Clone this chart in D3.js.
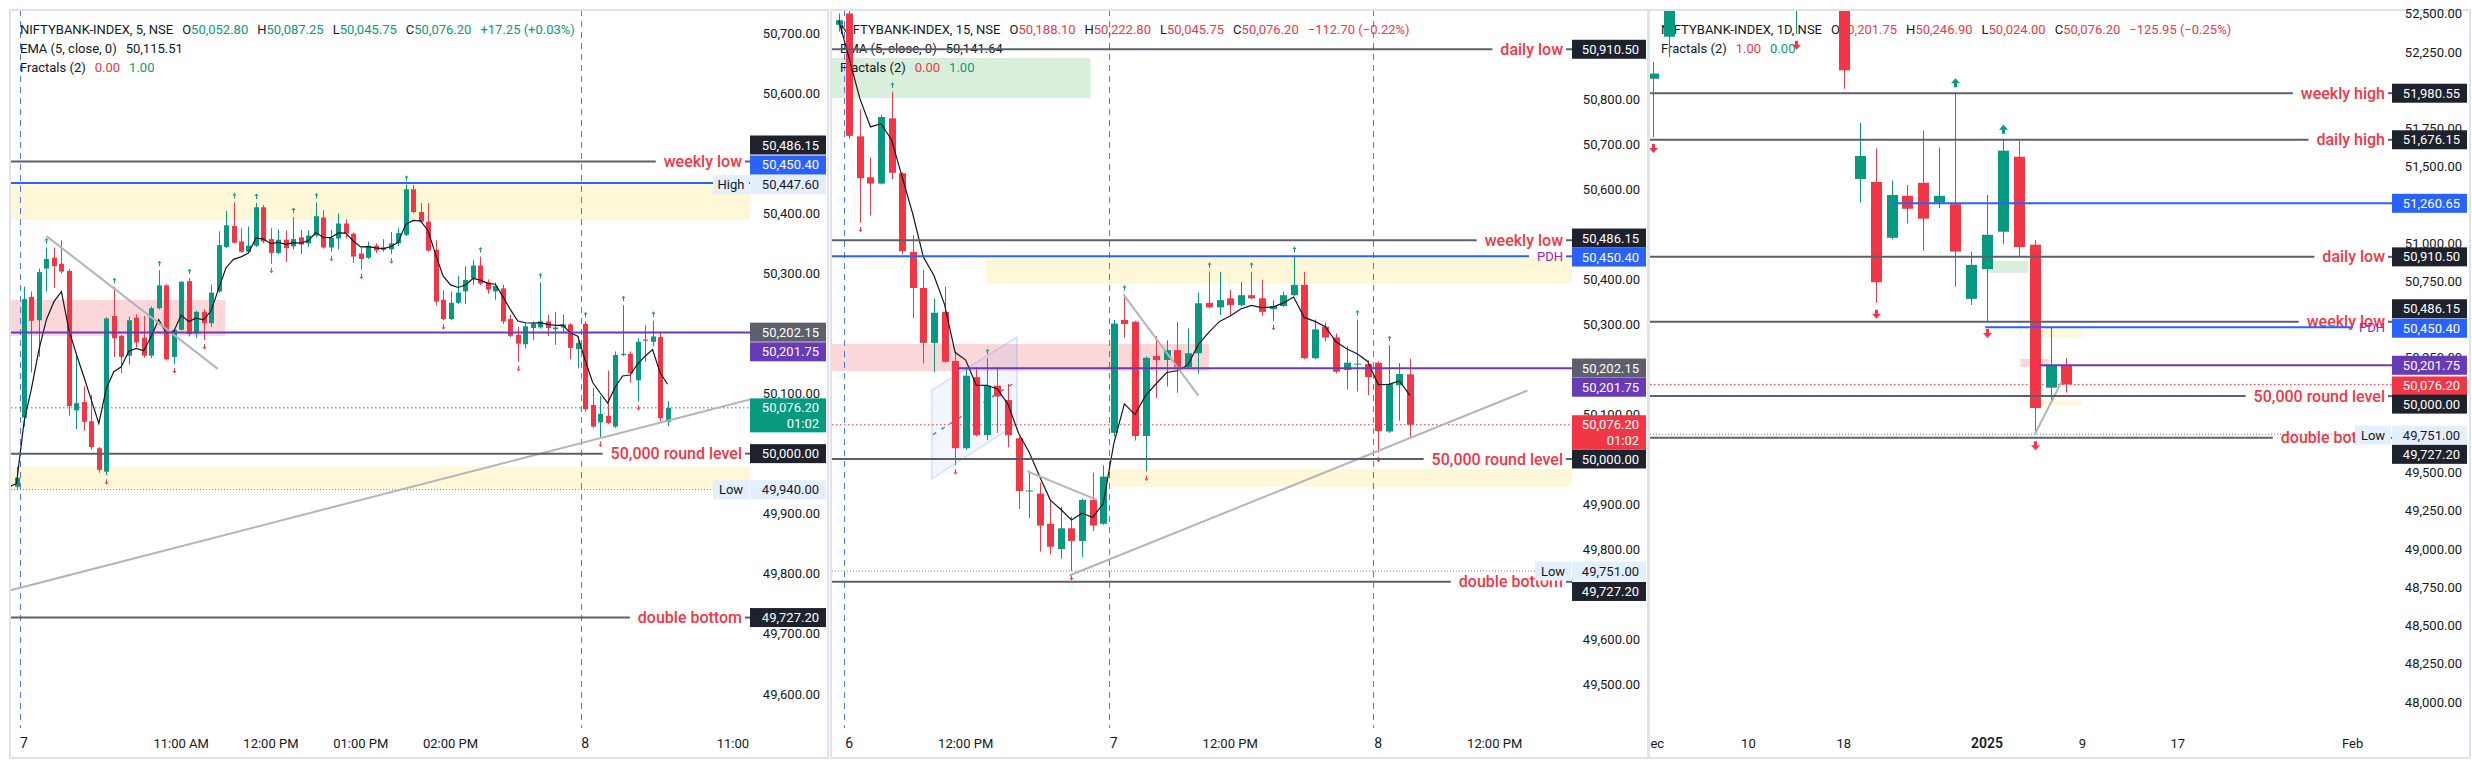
<!DOCTYPE html>
<html><head><meta charset="utf-8">
<script src="https://cdn.jsdelivr.net/npm/d3@7/dist/d3.min.js"></script>
<style>html,body{margin:0;padding:0;background:#fff}svg{display:block}</style>
</head><body>
<svg id="chart" width="2472" height="770"></svg>
<script>
// ================= DATA =================
// Panel 1: NIFTYBANK-INDEX, 5 min (bar 0 = 7 Jan 09:15, bar 75 = 8 Jan 09:15)
const p1FirstBar = -2;
const p1Open = [49948,49945,50060,50261,50222,50308,50326,50316,50304,50072,
50086,50054,50009,49970,50229,50196,50163,50226,50193,50163,
50242,50280,50161,50206,50287,50200,50236,50217,50270,50344,
50379,50353,50336,50346,50410,50357,50334,50356,50345,50360,
50350,50363,50393,50343,50358,50383,50366,50333,50326,50346,
50343,50340,50350,50364,50440,50402,50386,50339,50256,50224,
50251,50270,50292,50313,50285,50270,50275,50224,50198,50182,
50209,50210,50220,50207,50210,50215,50174,50216,50081,50052,
50063,50045,50164,50166,50122,50190,50186,50194,50052.8];
const p1High = [49962,49978,50278,50270,50308,50343,50343,50355,50307,50165,
50112,50098,50011,50227,50277,50198,50228,50232,50229,50245,
50305,50282,50208,50287,50292,50238,50240,50281,50370,50404,
50418,50375,50378,50417,50414,50375,50373,50371,50394,50372,
50371,50418,50405,50372,50400,50390,50368,50343,50353,50350,
50357,50369,50375,50447.6,50447,50417,50417,50355,50272,50270,
50296,50312,50322,50328,50290,50285,50281,50231,50211,50218,
50220,50285,50231,50236,50231,50217,50195,50220,50109,50096,
50138,50170,50247,50170,50192,50214,50221,50203,50087.25];
const p1Low = [49942,49940,50045,50135,50161,50270,50276,50300,50063,50041,
50038,50007,49968,49964,50161,50134,50148,50177,50160,50159,
50240,50155,50149,50205,50195,50193,50189,50211,50268,50342,
50350,50334,50334,50344,50350,50316,50332,50319,50340,50332,
50344,50360,50341,50336,50340,50358,50317,50306,50324,50334,
50336,50332,50345,50362,50400,50384,50336,50247,50222,50222,
50249,50249,50281,50280,50266,50256,50216,50194,50153,50175,
50189,50208,50196,50181,50200,50157,50142,50070,50043,50027,
50049,50043,50162,50118,50087,50153,50179,50054,50045.75];
const p1Close = [49945,49960,50257,50221,50302,50324,50312,50303,50079,50084,
50053,50011,49973,50225,50192,50161,50222,50185,50163,50242,
50280,50157,50206,50286,50199,50236,50217,50268,50347,50380,
50351,50336,50346,50410,50353,50334,50356,50342,50357,50348,
50363,50395,50343,50359,50383,50366,50328,50324,50346,50338,
50339,50350,50367,50440,50402,50386,50338,50253,50224,50251,
50268,50289,50313,50283,50273,50279,50220,50196,50183,50212,
50216,50220,50209,50210,50215,50176,50184,50074,50045,50066,
50051,50164,50166,50134,50186,50188,50195,50058.95,50076.2];
const p1UpFractals = [3,12,18,22,28,31,36,39,51,61,69,75,80,84];
const p1DownFractals = [11,20,24,33,41,45,49,56,66,77,82];
const p1SessionBreaks = [-0.5, 74.5];
const p1TimeTickBars = [0,21,33,45,57,75,96];
const p1TimeTickLabels = ["7","11:00 AM","12:00 PM","01:00 PM","02:00 PM","8","11:00"];
const p1PriceTicks = [50700,50600,50400,50300,50100,49900,49800,49700,49600];
const p1YellowZones = [[-5,300,50389,50447.6],[-5,300,49940,49978]];
const p1RedZones = [[-5,26.9,50196,50256]];
const p1Trends = [[3,50362,25.9,50141],[-2,49772,97,50090]];
const p1LevelPrices = [50486.15, 50000, 49727.2];
const p1LevelNames = ["weekly low","50,000 round level","double bottom"];
const p1Header = ["NIFTYBANK-INDEX, 5, NSE","+17.25 (+0.03%)","EMA (5, close, 0)","50,115.51","Fractals (2)","0.00","1.00"];

// Panel 2: NIFTYBANK-INDEX, 15 min (bar 0 = 6 Jan 09:15, 25 = 7 Jan, 50 = 8 Jan)
const p2FirstBar = -1;
const p2Open = [50965,50990,50717,50626,50612,50757,50635,50460,50380,50258,
50327,50218,50024,50182,50053,50163,50131,50046,49928,49923,
49856,49800,49846,49818,49909,49856,50058,50309,50305,50051,
50229,50220,50242,50204,50235,50347,50337,50357,50342,50364,
50357,50333,50340,50364,50387,50224,50294,50270,50198,50210,
50211,50214,50061,50164,50188.1];
const p2High = [50990,51020,50777,50670,50765,50816,50637,50497,50420,50357,
50383,50239,50204,50204,50224,50204,50167,50050,49974,49948,
49910,49894,49872,49912,49970,49986,50309,50365,50307,50228,
50273,50264,50305,50290,50370,50416,50416,50376,50394,50416,
50398,50353,50372,50451,50416,50310,50303,50279,50251,50310,
50219,50217,50253,50213,50222.8];
const p2Low = [50950,50712,50525,50541,50610,50622,50455,50313,50212,50193,
50214,49986,50020,50050,50042,50058,50026,49889,49869,49794,
49788,49778,49751,49782,49840,49854,50050,50270,50041,49972,
50135,50161,50147,50200,50190,50335,50320,50320,50340,50355,
50318,50307,50338,50362,50222,50222,50261,50190,50155,50150,
50142,50014,50058,50085,50045.75];
const p2Close = [50975,50718,50624,50612,50760,50636,50462,50380,50258,50325,
50216,50024,50185,50053,50163,50139,50053,49929,49930,49852,
49805,49846,49818,49909,49852,49961,50301,50300,50051,50225,
50220,50242,50204,50235,50346,50337,50353,50342,50364,50357,
50327,50340,50364,50387,50224,50288,50270,50194,50214,50212,
50182,50062,50167,50188.9,50076.2];
const p2UpFractals = [4,13,26,34,38,42,48,51];
const p2DownFractals = [1,10,21,28,40,50];
const p2SessionBreaks = [-0.5, 24.5, 49.5];
const p2TimeTickBars = [0,11,25,36,50,61];
const p2TimeTickLabels = ["6","12:00 PM","7","12:00 PM","8","12:00 PM"];
const p2PriceTicks = [50800,50700,50600,50400,50300,50100,49900,49800,49600,49500];
const p2GreenZones = [[-3,22.8,50802,50891]];
const p2YellowZones = [[12.9,300,50390,50447.3],[24.4,300,49938.4,49978.4]];
const p2RedZones = [[-3,34,50195.6,50255.6]];
const p2Trends = [[25.9,50366,33,50141],[16.8,49973,23.4,49909],[20.8,49741,64.1,50152]];
const p2Channel = [[7.8,50153],[15.85,50271],[15.85,50078],[7.8,49956]];
const p2ChannelMid = [[7.9,50054],[15.85,50173]];
const p2LevelPrices = [50910.5, 50486.15, 50000, 49727.2];
const p2LevelNames = ["daily low","weekly low","50,000 round level","double bottom"];
const p2Header = ["NIFTYBANK-INDEX, 15, NSE","\u2212112.70 (\u22120.22%)","EMA (5, close, 0)","50,141.64","Fractals (2)","0.00","1.00"];

// Panel 3: NIFTYBANK-INDEX, 1D (bar 0 = 2 Dec 2024 ... bar 26 = 8 Jan 2025)
const p3Open = [52075,52350,52690,52800,53300,53500,53400,53550,53400,53150,53550,53500,52800,51420,51400,51035,51310,51395,51265,51255,50636,50830,51075,51565,50990,50055,50201.75];
const p3High = [52185,52760,53000,53400,53650,53600,53700,53620,53450,53650,53700,53550,52900,51785,51620,51410,51380,51735,51625,51980,50945,51315,51676,51670,51020,50447.6,50246.9];
const p3Low = [51694,52217,52560,52700,53250,53200,53350,53300,53150,52370,53450,52780,52010,51265,50610,51025,51130,50950,51230,50715,50596,50485,50995,50910,49751,49964,50024];
const p3Close = [52109,52695,52770,53265,53510,53410,53580,53390,53215,53580,53580,52835,52130,51570,50745,51315,51225,51160,51310,50945,50858,51055,51605,50975,49922,50202.15,50076.2];
const p3UpFractals = [19,22];
const p3DownFractals = [0,9,14,21,24];
const p3TimeTickBars = [0,6,12,21,27,33,44];
const p3TimeTickLabels = ["Dec","10","18","2025","9","17","Feb"];
const p3PriceTicks = [52500,52250,51750,51500,51000,50750,50250,49500,49250,49000,48750,48500,48250,48000];
const p3GreenZones = [[21,23.6,50806,50884]];
const p3YellowZones = [[24.3,27,50381,50439.5],[24.3,27,49936,49971]];
const p3RedZones = [[23.1,24.9,50191,50243.5]];
const p3Trends = [[24,49747,25.7,50095]];
const p3LevelPrices = [51980.55, 51676.15, 50910.5, 50486.15, 50000, 49727.2];
const p3LevelNames = ["weekly high","daily high","daily low","weekly low","50,000 round level","double bottom"];
const p3Header = ["NIFTYBANK-INDEX, 1D, NSE","\u2212125.95 (\u22120.25%)","Fractals (2)","1.00","0.00"];

// shared reference prices
const lastPrice = 50076.2, pdh = 50450.4, prevClose = 50202.15, todayOpen = 50201.75;
const p3BlueLevel = 51260.65;

// ================= DRAWING =================
const svg = d3.select("#chart");
const defs = svg.append("defs");
const FONT = "Roboto, 'Noto Sans', 'Liberation Sans', Arial, sans-serif";
const COL = {up:"#089981", dn:"#f23645", text:"#131722", level:"#5d606b", blue:"#2962ff",
  purple:"#673ab7", pdh:"#9c27b0", dark:"#1e222d", gray:"#5d606b", tag:"#e3effd",
  yellow:"#fff8d8", pink:"#fbd7da", green:"#daeedc", trend:"#b2b5be", frame:"#e0e3eb"};
const TOP = 10, BOTTOM = 758, AXIS_TOP = 730;
const fmt = d3.format(",.2f");

function makePanel(id, fx0, fx1, plotR) {
  const g = svg.append("g");
  g.append("rect").attr("x", fx0).attr("y", TOP).attr("width", fx1 - fx0).attr("height", BOTTOM - TOP)
    .attr("fill", "#fff").attr("stroke", COL.frame).attr("stroke-width", 2);
  defs.append("clipPath").attr("id", id + "p").append("rect")
    .attr("x", fx0 + 1).attr("y", TOP + 1).attr("width", plotR - fx0 - 1).attr("height", AXIS_TOP - TOP - 1);
  defs.append("clipPath").attr("id", id + "t").append("rect")
    .attr("x", fx0 + 1).attr("y", AXIS_TOP).attr("width", plotR - fx0 - 1).attr("height", BOTTOM - AXIS_TOP);
  const plot = g.append("g").attr("clip-path", `url(#${id}p)`);
  return {id, g, plot, fx0, fx1, plotR};
}
function txt(sel, x, y, s, o = {}) {
  return sel.append("text").attr("x", x).attr("y", y).text(s)
    .attr("font-family", FONT).attr("font-size", o.size || 13).attr("fill", o.fill || COL.text)
    .attr("text-anchor", o.anchor || "start").attr("dominant-baseline", "central")
    .attr("font-weight", o.weight || 400);
}
function header(sel, x, y, segs) {
  const t = sel.append("text").attr("x", x).attr("y", y).attr("font-family", FONT)
    .attr("font-size", 13).attr("dominant-baseline", "central");
  segs.forEach(s => t.append("tspan").attr("dx", s[2] || 0).attr("fill", s[1]).text(s[0]));
}
function zones(sel, xs, ys, list, fill) {
  list.forEach(z => sel.append("rect").attr("x", xs(z[0])).attr("width", xs(z[1]) - xs(z[0]))
    .attr("y", ys(z[3])).attr("height", ys(z[2]) - ys(z[3])).attr("fill", fill));
}
function hLine(sel, xa, xb, y, color, w, dash) {
  const l = sel.append("line").attr("x1", xa).attr("x2", xb).attr("y1", y).attr("y2", y)
    .attr("stroke", color).attr("stroke-width", w);
  if (dash) l.attr("stroke-dasharray", dash);
  return l;
}
function sessionLine(sel, x) {
  const xx = Math.round(x) + 0.5;
  sel.append("line").attr("x1", xx).attr("x2", xx).attr("y1", TOP).attr("y2", AXIS_TOP - 2)
    .attr("stroke", COL.blue).attr("stroke-width", 1).attr("stroke-dasharray", "6,5").attr("opacity", 0.85);
}
function candles(sel, xs, ys, first, O, Hh, L, Cc, bw) {
  const idx = d3.range(O.length);
  const col = k => Cc[k] >= O[k] ? COL.up : COL.dn;
  const cx = k => Math.round(xs(k + first));
  sel.append("g").selectAll("line").data(idx).join("line")
    .attr("x1", k => cx(k) + 0.5).attr("x2", k => cx(k) + 0.5)
    .attr("y1", k => ys(Hh[k])).attr("y2", k => ys(L[k]))
    .attr("stroke", col).attr("stroke-width", 1);
  sel.append("g").selectAll("rect").data(idx).join("rect")
    .attr("x", k => cx(k) - (bw - 1) / 2).attr("width", bw)
    .attr("y", k => ys(Math.max(O[k], Cc[k])))
    .attr("height", k => Math.max(1, Math.abs(ys(O[k]) - ys(Cc[k]))))
    .attr("fill", col);
}
function emaLine(sel, xs, ys, first, Cc, len) {
  const a = 2 / (len + 1); let e = Cc[0];
  const pts = Cc.map((c, k) => { e = k === 0 ? c : a * c + (1 - a) * e; return [xs(k + first), ys(e)]; });
  sel.append("path").attr("d", d3.line()(pts)).attr("fill", "none")
    .attr("stroke", "#131722").attr("stroke-width", 1.2);
}
function smallFractals(sel, xs, ys, first, Hh, L, ups, downs) {
  ups.forEach(b => {
    const x = Math.round(xs(b)) + 0.5, y = ys(Hh[b - first]) - 7;
    sel.append("path").attr("d", `M${x - 2},${y} L${x},${y - 2.5} L${x + 2},${y} Z`).attr("fill", COL.up);
    sel.append("line").attr("x1", x).attr("x2", x).attr("y1", y).attr("y2", y + 3).attr("stroke", COL.up);
  });
  downs.forEach(b => {
    const x = Math.round(xs(b)) + 0.5, y = ys(L[b - first]) + 7;
    sel.append("path").attr("d", `M${x - 2},${y} L${x},${y + 2.5} L${x + 2},${y} Z`).attr("fill", COL.dn);
    sel.append("line").attr("x1", x).attr("x2", x).attr("y1", y).attr("y2", y - 3).attr("stroke", COL.dn);
  });
}
function bigArrow(sel, x, yTip, dir, color) {
  const s = dir; // -1 up (tip at top), +1 down (tip at bottom)
  const p = [[0,0],[4.5,-5*s],[1.5,-5*s],[1.5,-9*s],[-1.5,-9*s],[-1.5,-5*s],[-4.5,-5*s]]
    .map(d => `${x + d[0]},${yTip + d[1]}`).join(" L");
  sel.append("path").attr("d", "M" + p + " Z").attr("fill", color);
}
function trends(sel, xs, ys, list) {
  list.forEach(t => sel.append("line").attr("x1", xs(t[0])).attr("y1", ys(t[1]))
    .attr("x2", xs(t[2])).attr("y2", ys(t[3])).attr("stroke", COL.trend).attr("stroke-width", 2));
}
function levelWithText(sel, x0, textEnd, plotR, y, label, o = {}) {
  const t = txt(sel, textEnd, y, label, {size: o.size || 16, fill: o.tfill || COL.dn, anchor: "end", weight: o.weight || 500});
  const w = t.node().getComputedTextLength();
  hLine(sel, x0, textEnd - w - 8, y, o.color || COL.level, 2);
  hLine(sel, textEnd + 3, plotR, y, o.color || COL.level, 2);
  return t;
}
function yTicks(g, ys, ticks, xr) {
  ticks.forEach(v => txt(g, xr, ys(v), fmt(v), {anchor: "end"}));
}
function priceBox(g, x0, x1, cy, bg, fg, lines) {
  const h = 19 + (lines.length - 1) * 15;
  g.append("rect").attr("x", x0).attr("y", cy - 9.5).attr("width", x1 - x0).attr("height", h).attr("fill", bg);
  lines.forEach((s, k) => txt(g, x1 - 7, cy + k * 16, s, {anchor: "end", fill: fg}));
}
function tagBox(g, x0, x1, plotR, cy, tag, value) {
  g.append("rect").attr("x", plotR - 37).attr("y", cy - 9.5).attr("width", 36).attr("height", 19).attr("fill", COL.tag);
  txt(g, plotR - 19, cy, tag, {anchor: "middle"});
  priceBox(g, x0, x1, cy, COL.tag, COL.text, [fmt(value)]);
}
function xTicks(P, xs, bars, labels, boldSet) {
  const gg = P.g.append("g").attr("clip-path", `url(#${P.id}t)`);
  bars.forEach((b, k) => {
    const x = xs(b);
    const bold = boldSet.includes(labels[k]);
    const t = txt(gg, x, 743, labels[k], {anchor: "middle", size: bold ? 14 : 13, weight: labels[k] === "2025" ? 600 : 400});
    const w = t.node().getComputedTextLength();
    if (x + w / 2 > P.plotR - 1) t.attr("x", P.plotR - 1 - w / 2);
  });
}

// ---------- PANEL 1 ----------
{
  const P = makePanel("p1", 10, 828, 750);
  const xs = d3.scaleLinear().domain([0, 75]).range([24, 24 + 75 * 7.483]);
  const ys = d3.scaleLinear().domain([49600, 50700]).range([694, 33]);
  const pl = P.plot, L0 = 11;
  zones(pl, xs, ys, p1YellowZones, COL.yellow);
  zones(pl, xs, ys, p1RedZones, COL.pink);
  p1SessionBreaks.forEach(b => sessionLine(pl, xs(b)));
  hLine(pl, L0, 750, ys(lastPrice), COL.up, 1, "1.5,2.5");
  hLine(pl, L0, 713, ys(d3.min(p1Low)), "#787b86", 1, "1,2");
  hLine(pl, L0, 713, ys(d3.max(p1High)) - 2, "#787b86", 1, "1,2");
  const last = p1Open.length - 1;
  header(pl, 20, 29, [[p1Header[0], COL.text], ["O", COL.text, 9], [fmt(p1Open[last]), COL.up],
    ["H", COL.text, 9], [fmt(p1High[last]), COL.up], ["L", COL.text, 9], [fmt(p1Low[last]), COL.up],
    ["C", COL.text, 9], [fmt(p1Close[last]), COL.up], [p1Header[1], COL.up, 9]]);
  header(pl, 20, 48, [[p1Header[2], COL.text], [p1Header[3], COL.text, 9]]);
  header(pl, 20, 67, [[p1Header[4], COL.text], [p1Header[5], COL.dn, 9], [p1Header[6], COL.up, 9]]);
  candles(pl, xs, ys, p1FirstBar, p1Open, p1High, p1Low, p1Close, 5);
  emaLine(pl, xs, ys, p1FirstBar, p1Close, 5);
  smallFractals(pl, xs, ys, p1FirstBar, p1High, p1Low, p1UpFractals, p1DownFractals);
  trends(pl, xs, ys, p1Trends);
  hLine(pl, L0, 750, ys(pdh), COL.blue, 2);
  hLine(pl, L0, 750, ys(todayOpen), COL.purple, 2);
  p1LevelPrices.forEach((v, k) => levelWithText(pl, L0, 742, 750, ys(v), p1LevelNames[k]));
  // price axis
  yTicks(P.g, ys, p1PriceTicks, 820);
  const bx0 = 750, bx1 = 826;
  priceBox(P.g, bx0, bx1, ys(p1LevelPrices[0]) - 16.5, COL.dark, "#fff", [fmt(p1LevelPrices[0])]);
  priceBox(P.g, bx0, bx1, ys(pdh) - 18, COL.blue, "#fff", [fmt(pdh)]);
  tagBox(P.g, bx0, bx1, 750, ys(d3.max(p1High)), "High", d3.max(p1High));
  priceBox(P.g, bx0, bx1, ys(prevClose), COL.gray, "#fff", [fmt(prevClose)]);
  priceBox(P.g, bx0, bx1, ys(todayOpen) + 19.4, COL.purple, "#fff", [fmt(todayOpen)]);
  priceBox(P.g, bx0, bx1, ys(lastPrice), COL.up, "#fff", [fmt(lastPrice), "01:02"]);
  priceBox(P.g, bx0, bx1, ys(p1LevelPrices[1]), COL.dark, "#fff", [fmt(p1LevelPrices[1])]);
  tagBox(P.g, bx0, bx1, 750, ys(d3.min(p1Low)), "Low", d3.min(p1Low));
  priceBox(P.g, bx0, bx1, ys(p1LevelPrices[2]), COL.dark, "#fff", [fmt(p1LevelPrices[2])]);
  xTicks(P, xs, p1TimeTickBars, p1TimeTickLabels, ["7", "8"]);
}

// ---------- PANEL 2 ----------
{
  const P = makePanel("p2", 831, 1648, 1572);
  const xs = d3.scaleLinear().domain([0, 50]).range([849.3, 849.3 + 50 * 10.58]);
  const ys = d3.scaleLinear().domain([49500, 50800]).range([684, 99]);
  const pl = P.plot, L0 = 832;
  zones(pl, xs, ys, p2GreenZones, COL.green);
  zones(pl, xs, ys, p2YellowZones, COL.yellow);
  zones(pl, xs, ys, p2RedZones, COL.pink);
  // channel
  pl.append("path").attr("d", d3.line()(p2Channel.map(d => [xs(d[0]), ys(d[1])])) + "Z")
    .attr("fill", "rgba(41,98,255,0.06)").attr("stroke", "rgba(41,98,255,0.18)").attr("stroke-width", 1.5);
  pl.append("line").attr("x1", xs(p2ChannelMid[0][0])).attr("y1", ys(p2ChannelMid[0][1]))
    .attr("x2", xs(p2ChannelMid[1][0])).attr("y2", ys(p2ChannelMid[1][1]))
    .attr("stroke", COL.blue).attr("stroke-width", 1.2).attr("stroke-dasharray", "4,6");
  p2SessionBreaks.forEach(b => sessionLine(pl, xs(b)));
  hLine(pl, L0, 1572, ys(lastPrice), COL.dn, 1, "1.5,2.5");
  hLine(pl, L0, 1536, ys(d3.min(p2Low)), "#787b86", 1, "1,2");
  const last = p2Open.length - 1;
  header(pl, 840, 29, [[p2Header[0], COL.text], ["O", COL.text, 9], [fmt(p2Open[last]), COL.dn],
    ["H", COL.text, 9], [fmt(p2High[last]), COL.dn], ["L", COL.text, 9], [fmt(p2Low[last]), COL.dn],
    ["C", COL.text, 9], [fmt(p2Close[last]), COL.dn], [p2Header[1], COL.dn, 9]]);
  header(pl, 840, 48, [[p2Header[2], COL.text], [p2Header[3], COL.text, 9]]);
  header(pl, 840, 67, [[p2Header[4], COL.text], [p2Header[5], COL.dn, 9], [p2Header[6], COL.up, 9]]);
  candles(pl, xs, ys, p2FirstBar, p2Open, p2High, p2Low, p2Close, 7);
  emaLine(pl, xs, ys, p2FirstBar, p2Close, 5);
  smallFractals(pl, xs, ys, p2FirstBar, p2High, p2Low, p2UpFractals, p2DownFractals);
  trends(pl, xs, ys, p2Trends);
  hLine(pl, xs(10.27), 1572, ys(todayOpen), COL.purple, 2);
  p2LevelPrices.forEach((v, k) => levelWithText(pl, L0, 1563, 1572, ys(v), p2LevelNames[k]));
  levelWithText(pl, L0, 1563, 1572, ys(pdh), "PDH", {size: 13, tfill: COL.pdh, color: COL.blue, weight: 400});
  yTicks(P.g, ys, p2PriceTicks, 1640);
  const bx0 = 1572, bx1 = 1646;
  priceBox(P.g, bx0, bx1, ys(p2LevelPrices[0]), COL.dark, "#fff", [fmt(p2LevelPrices[0])]);
  priceBox(P.g, bx0, bx1, ys(p2LevelPrices[1]) - 2.2, COL.dark, "#fff", [fmt(p2LevelPrices[1])]);
  priceBox(P.g, bx0, bx1, ys(pdh) + 0.7, COL.blue, "#fff", [fmt(pdh)]);
  priceBox(P.g, bx0, bx1, ys(prevClose), COL.gray, "#fff", [fmt(prevClose)]);
  priceBox(P.g, bx0, bx1, ys(todayOpen) + 19, COL.purple, "#fff", [fmt(todayOpen)]);
  priceBox(P.g, bx0, bx1, ys(lastPrice), COL.dn, "#fff", [fmt(lastPrice), "01:02"]);
  priceBox(P.g, bx0, bx1, ys(p2LevelPrices[2]), COL.dark, "#fff", [fmt(p2LevelPrices[2])]);
  tagBox(P.g, bx0, bx1, 1572, ys(d3.min(p2Low)), "Low", d3.min(p2Low));
  priceBox(P.g, bx0, bx1, ys(p2LevelPrices[3]) + 9.7, COL.dark, "#fff", [fmt(p2LevelPrices[3])]);
  xTicks(P, xs, p2TimeTickBars, p2TimeTickLabels, ["6", "7", "8"]);
}

// ---------- PANEL 3 ----------
{
  const P = makePanel("p3", 1649, 2470, 2392);
  const xs = d3.scaleLinear().domain([0, 26]).range([1653, 1653 + 26 * 15.9]);
  const ys = d3.scaleLinear().domain([48000, 52250]).range([702, 52]);
  const pl = P.plot, L0 = 1650;
  zones(pl, xs, ys, p3GreenZones, COL.green);
  zones(pl, xs, ys, p3YellowZones, COL.yellow);
  zones(pl, xs, ys, p3RedZones, COL.pink);
  hLine(pl, L0, 2392, ys(lastPrice), COL.dn, 1, "1.5,2.5");
  hLine(pl, L0, 2355, ys(d3.min(p3Low)), "#787b86", 1, "1,2");
  const last = p3Open.length - 1;
  header(pl, 1661, 29, [[p3Header[0], COL.text], ["O", COL.text, 9], [fmt(p3Open[last]), COL.dn],
    ["H", COL.text, 9], [fmt(p3High[last]), COL.dn], ["L", COL.text, 9], [fmt(p3Low[last]), COL.dn],
    ["C", COL.text, 9], [fmt(p3Close[last]), COL.dn], [p3Header[1], COL.dn, 9]]);
  header(pl, 1661, 48, [[p3Header[2], COL.text], [p3Header[3], COL.dn, 9], [p3Header[4], COL.up, 9]]);
  candles(pl, xs, ys, 0, p3Open, p3High, p3Low, p3Close, 11);
  p3UpFractals.forEach(b => bigArrow(pl, Math.round(xs(b)) + 0.5, ys(p3High[b]) - 15, -1, COL.up));
  p3DownFractals.forEach(b => bigArrow(pl, Math.round(xs(b)) + 0.5, ys(p3Low[b]) + 16, 1, COL.dn));
  trends(pl, xs, ys, p3Trends);
  hLine(pl, xs(15.1), 2392, ys(p3BlueLevel), COL.blue, 2);
  hLine(pl, xs(24.3), 2392, ys(todayOpen), COL.purple, 2);
  p3LevelPrices.forEach((v, k) => levelWithText(pl, L0, 2385, 2392, ys(v), p3LevelNames[k]));
  {
    const t = txt(pl, 2385, ys(pdh), "PDH", {size: 13, fill: COL.pdh, anchor: "end"});
    const w = t.node().getComputedTextLength();
    hLine(pl, xs(20.9), 2385 - w - 6, ys(pdh), COL.blue, 2);
  }
  yTicks(P.g, ys, p3PriceTicks, 2462);
  const bx0 = 2392, bx1 = 2467;
  priceBox(P.g, bx0, bx1, ys(p3LevelPrices[0]), COL.dark, "#fff", [fmt(p3LevelPrices[0])]);
  priceBox(P.g, bx0, bx1, ys(p3LevelPrices[1]), COL.dark, "#fff", [fmt(p3LevelPrices[1])]);
  priceBox(P.g, bx0, bx1, ys(p3BlueLevel), COL.blue, "#fff", [fmt(p3BlueLevel)]);
  priceBox(P.g, bx0, bx1, ys(p3LevelPrices[2]), COL.dark, "#fff", [fmt(p3LevelPrices[2])]);
  priceBox(P.g, bx0, bx1, ys(p3LevelPrices[3]) - 13, COL.dark, "#fff", [fmt(p3LevelPrices[3])]);
  priceBox(P.g, bx0, bx1, ys(pdh) + 1, COL.blue, "#fff", [fmt(pdh)]);
  priceBox(P.g, bx0, bx1, ys(todayOpen), COL.purple, "#fff", [fmt(todayOpen)]);
  priceBox(P.g, bx0, bx1, ys(lastPrice) + 1.5, COL.dn, "#fff", [fmt(lastPrice)]);
  priceBox(P.g, bx0, bx1, ys(p3LevelPrices[4]) + 8, COL.dark, "#fff", [fmt(p3LevelPrices[4])]);
  tagBox(P.g, bx0, bx1, 2392, ys(d3.min(p3Low)) + 1, "Low", d3.min(p3Low));
  priceBox(P.g, bx0, bx1, ys(p3LevelPrices[5]) + 16.5, COL.dark, "#fff", [fmt(p3LevelPrices[5])]);
  xTicks(P, xs, p3TimeTickBars, p3TimeTickLabels, ["2025"]);
}
</script>
</body></html>
